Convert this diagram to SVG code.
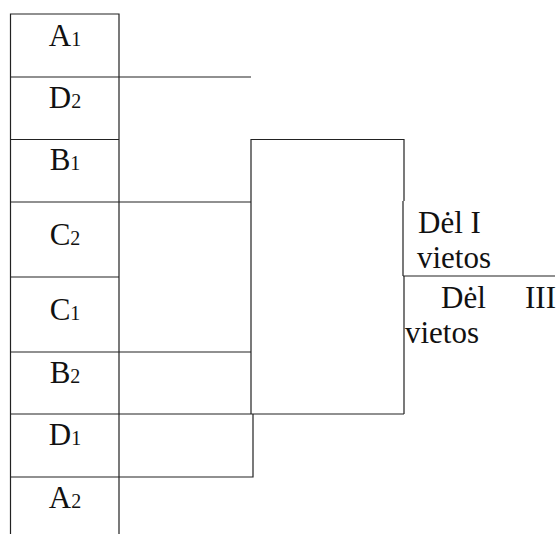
<svg xmlns="http://www.w3.org/2000/svg" width="558" height="534" viewBox="0 0 558 534">
<style>
.l{stroke:#222;stroke-width:1.2;fill:none}
.t{font-family:"Liberation Serif","Times New Roman",serif;font-size:31px;fill:#111}
.s{font-size:20px}
.c{text-anchor:middle}
</style>
<rect width="558" height="534" fill="#fff"/>
<g id="column">
<path class="l" d="M10.5 534V14H119V534M10.5 77H119M10.5 139.5H119M10.5 202H119M10.5 277H119M10.5 352H119M10.5 414H119M10.5 477H119"/>
</g>
<g id="A1"><text class="t c" x="65" y="46">A<tspan class="s">1</tspan></text></g>
<g id="D2"><text class="t c" x="65" y="108">D<tspan class="s">2</tspan></text></g>
<g id="B1"><text class="t c" x="65" y="170">B<tspan class="s">1</tspan></text></g>
<g id="C2"><text class="t c" x="65" y="245">C<tspan class="s">2</tspan></text></g>
<g id="C1"><text class="t c" x="65" y="320">C<tspan class="s">1</tspan></text></g>
<g id="B2"><text class="t c" x="65" y="383">B<tspan class="s">2</tspan></text></g>
<g id="D1"><text class="t c" x="65" y="445">D<tspan class="s">1</tspan></text></g>
<g id="A2"><text class="t c" x="65" y="508">A<tspan class="s">2</tspan></text></g>
<g id="connectors">
<path class="l" d="M119 77H251M119 202H251M119 352H251M119 414H404M119 477H253V414M251 414V139.5H404V201M403 201V276M403 276H555M404 276V414"/>
</g>
<g id="labels">
<text class="t" x="418" y="233">Dėl I</text>
<text class="t" x="417" y="268">vietos</text>
<text class="t" x="441" y="308">Dėl</text>
<text class="t" x="525" y="308">III</text>
<text class="t" x="405" y="343">vietos</text>
</g>
</svg>
